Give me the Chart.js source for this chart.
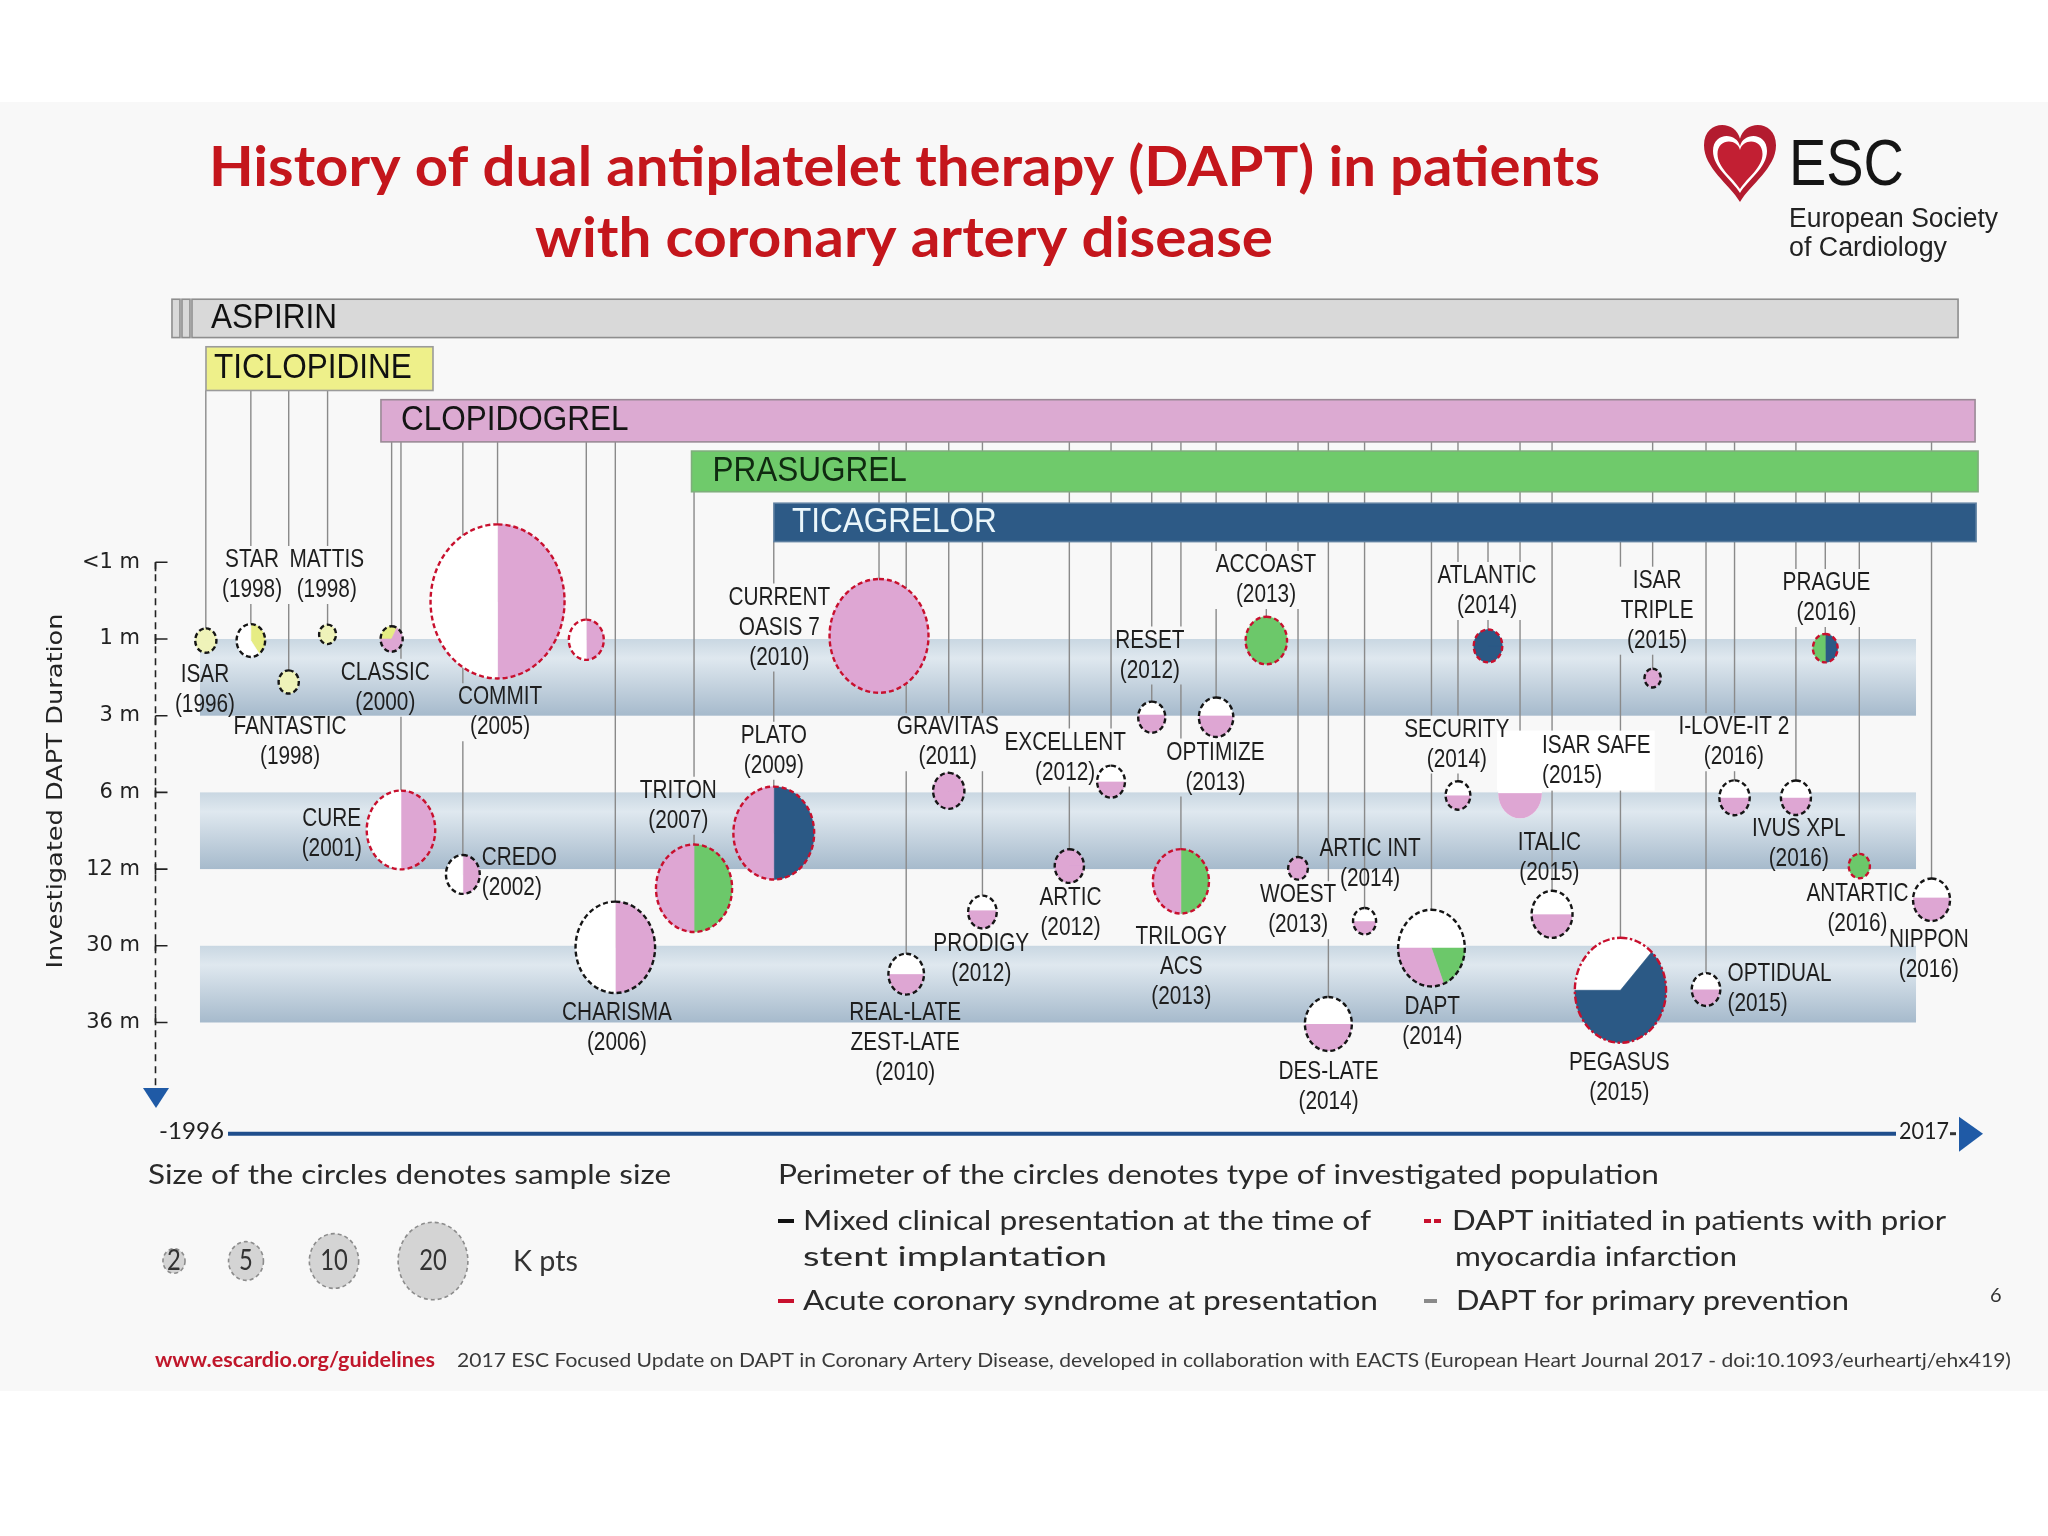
<!DOCTYPE html>
<html><head><meta charset="utf-8">
<script src="https://cdn.jsdelivr.net/npm/chart.js@4.4.1/dist/chart.umd.min.js"></script>
<style>html,body{margin:0;padding:0;background:#fff;}canvas{display:block;}</style>
</head><body>
<canvas id="c" width="2048" height="1536"></canvas>
<script>
// ---------------- DATA ----------------
const yTickLabels = ['<1 m','1 m','3 m','6 m','12 m','30 m','36 m'];

const drugNames  = ['ASPIRIN','TICLOPIDINE','CLOPIDOGREL','PRASUGREL','TICAGRELOR'];
const drugStart  = [-2.16, -1.32, 9.17, 27.79, 32.73];
const drugEnd    = [103.72, 12.29, 104.74, 104.92, 104.8];
const drugTop    = [-3.43, -2.81, -2.12, -1.45, -0.77];
const drugBottom = [-2.93, -2.24, -1.57, -0.92, -0.27];

const bandFrom = [1, 3, 5];
const bandTo   = [2, 4, 6];

const trialLabels = ['ISAR\n(1996)','STAR\n(1998)','FANTASTIC\n(1998)','MATTIS\n(1998)','CLASSIC\n(2000)','CURE\n(2001)','CREDO\n(2002)','COMMIT\n(2005)','','CHARISMA\n(2006)','TRITON\n(2007)','PLATO\n(2009)','CURRENT\nOASIS 7\n(2010)','REAL-LATE\nZEST-LATE\n(2010)','GRAVITAS\n(2011)','PRODIGY\n(2012)','ARTIC\n(2012)','EXCELLENT\n(2012)','RESET\n(2012)','TRILOGY\nACS\n(2013)','OPTIMIZE\n(2013)','ACCOAST\n(2013)','WOEST\n(2013)','DES-LATE\n(2014)','ARTIC INT\n(2014)','DAPT\n(2014)','SECURITY\n(2014)','ATLANTIC\n(2014)','ISAR SAFE\n(2015)','ITALIC\n(2015)','PEGASUS\n(2015)','ISAR\nTRIPLE\n(2015)','OPTIDUAL\n(2015)','I-LOVE-IT 2\n(2016)','IVUS XPL\n(2016)','PRAGUE\n(2016)','ANTARTIC\n(2016)','NIPPON\n(2016)'];
// timeline position (0 = 1996 start, 100 = 2017 end)
const trialX = [-1.33,1.37,3.64,5.97,9.81,10.37,14.08,16.16,21.48,23.22,27.94,32.72,39.03,40.66,43.21,45.23,50.44,52.94,55.38,57.13,59.24,62.25,64.15,65.97,68.14,72.15,73.74,75.54,77.46,79.38,83.48,85.41,88.61,90.32,94.00,95.76,97.80,102.13];
// investigated DAPT duration (position on the duration axis)
const trialY = [1.02,1.02,1.56,0.94,1.00,3.49,4.07,0.51,1.01,5.02,4.25,3.53,0.96,5.37,2.98,4.56,3.96,2.86,2.02,4.16,2.02,1.02,3.99,6.02,4.68,5.03,3.04,1.09,3.01,4.59,5.58,1.51,5.57,3.07,3.07,1.12,3.96,4.40];
// sample size, thousands of patients
const trialSizeK = [1.1,2.0,1.0,0.7,1.2,11.5,2.8,44,3.0,15.5,14.2,16,24,3.1,2.4,2.0,2.1,1.9,1.8,7.7,2.9,4.2,0.95,5.4,1.3,10.9,1.5,2.0,4.7,4.1,20.4,0.65,2.0,2.25,2.2,1.5,1.1,3.35];
// treatment arms: "startAngle:ColourPct,..." or "L<pct>" (lower part = longer DAPT)
const trialArms = ['0:y100','-90:Y40,W60','0:y100','0:y100','180:Y33,P67','-90:P50,W50','-90:P50,W50','-90:P50,W50','-90:P50,W50','-90:P50,W50','-90:G50,P50','-90:B50,P50','0:P100','L50','0:P100','L55','0:P100','L50','L58','-90:G50,P50','L54','0:G100','0:P100','L50','L50','180:W50,G19,P31','L50','0:B100','L50','L50','180:W37,B63','0:P100','L50','L50','L50','-90:B50,G50','0:G100','L55'];
// population type (perimeter)
const trialPopulation = ['M','M','M','M','M','A','M','A','A','M','A','A','A','M','M','M','M','M','M','A','M','A','M','M','M','M','M','A','N','M','MI','M','M','M','M','A','A','M'];
// drug bar the trial hangs from (index into drugNames)
const trialDrug = [1,1,1,1,2,2,2,2,2,2,3,4,2,2,2,2,2,2,2,2,2,3,2,2,2,2,2,4,2,2,4,2,2,2,2,3,3,2];
// label anchors (timeline position, duration position)
const labelX = [-1.38,1.44,3.72,5.92,9.43,6.22,15.21,16.31,null,23.32,27.0,32.72,33.05,40.6,43.15,45.16,50.51,50.19,55.27,57.15,59.2,62.23,64.16,65.98,68.47,72.2,73.67,75.48,78.78,79.22,83.41,85.68,89.9,90.28,94.17,95.83,97.69,101.97];
const labelY = [1.47,-0.03,2.15,-0.03,1.44,3.35,3.85,1.76,null,5.87,2.98,2.26,0.46,5.87,2.15,4.97,4.38,2.35,1.02,4.88,2.48,0.035,4.34,6.64,3.73,5.79,2.18,0.18,2.39,3.66,6.52,0.24,5.36,2.15,3.47,0.27,4.32,4.92];
const labelMode = ['c','c','c','c','c','c','l','c','','c','c','c','c','c','c','c','c','c','c','c','c','c','c','c','n','c','c','c','b','n','c','c','l','c','c','c','c','c'];

const legendSizesK = [2,5,10,20];

// ---------------- STYLE ----------------
const R_SCALE = 10.1, ELL = 1.15, LEG_SCALE = 7.8;
const LFONT = '26px "Liberation Sans", Arial, sans-serif', LSX = 0.8, LLH = 30;
const COL = {W:'#ffffff', P:'#dea6d3', G:'#6cc86a', B:'#2b5985', Y:'#e6ec84', y:'#eff3b9'};
const POP = {M:{c:'#151515',d:[5,3]}, A:{c:'#c8102e',d:[5,3]}, MI:{c:'#c8102e',d:[7,2.5,2.5,2.5]}, PP:{c:'#8a8a8a',d:[5,3]}};
const DRUG_STYLE = [
  {fill:'#d9d9d9', stroke:'#8e8e8e', text:'#111', off:19},
  {fill:'#eef08a', stroke:'#9b9b9b', text:'#111', off:8},
  {fill:'#dcaad2', stroke:'#9a8a96', text:'#151515', off:20},
  {fill:'#6fca6b', stroke:'#7fae7c', text:'#0f2a10', off:21},
  {fill:'#2d5a86', stroke:'#5d7fa0', text:'#eaf6fb', off:18}];

function T(c, s, x, y, font, color, align, w, sx, baseline){
  c.save(); c.font = font; const m = c.measureText(s).width; const k = w ? w/m : (sx || 1);
  c.translate(x, y); c.scale(k, 1); c.textAlign = align || 'left'; c.textBaseline = baseline || 'middle';
  c.fillStyle = color; c.fillText(s, 0, 0); c.restore(); return m*k;
}

function heart(c, cx, top, w, h){
  c.beginPath();
  c.moveTo(cx, top+0.22*h);
  c.bezierCurveTo(cx-0.06*w, top-0.02*h, cx-0.5*w, top-0.02*h, cx-0.5*w, top+0.3*h);
  c.bezierCurveTo(cx-0.5*w, top+0.58*h, cx-0.15*w, top+0.78*h, cx, top+h);
  c.bezierCurveTo(cx+0.15*w, top+0.78*h, cx+0.5*w, top+0.58*h, cx+0.5*w, top+0.3*h);
  c.bezierCurveTo(cx+0.5*w, top-0.02*h, cx+0.06*w, top-0.02*h, cx, top+0.22*h);
  c.closePath();
}

function labelBoxes(chart){
  const xs = chart.scales.x, ys = chart.scales.y, c = chart.ctx;
  c.save(); c.font = LFONT;
  const res = trialLabels.map((t,i) => {
    if (!t) return null;
    const lines = t.split('\n');
    const w = Math.max(...lines.map(l => c.measureText(l).width)) * LSX;
    const x = xs.getPixelForValue(labelX[i]), y = ys.getPixelForValue(labelY[i]);
    const left = (labelMode[i]==='l' || labelMode[i]==='b') ? x : x - w/2;
    return {lines, x, y, left, right:left+w, top:y-LLH/2+1, bottom:y+(lines.length-1)*LLH+LLH/2-1, mode:labelMode[i]};
  });
  c.restore();
  return res;
}

function drawCircle(c, i, px, py){
  const rx = R_SCALE*Math.sqrt(trialSizeK[i]), ry = rx*ELL, a = trialArms[i];
  c.save();
  if (a[0] === 'L'){
    const f = +a.slice(1)/100;
    c.beginPath(); c.ellipse(px, py, rx, ry, 0, 0, 2*Math.PI); c.fillStyle = COL.W; c.fill(); c.clip();
    c.fillStyle = COL.P; const yb = py+ry, yt = yb-2*ry*f; c.fillRect(px-rx-1, yt, 2*rx+2, yb-yt+1);
  } else {
    const parts = a.split(':'); let ang = +parts[0]*Math.PI/180;
    parts[1].split(',').forEach(sg => {
      const col = COL[sg[0]], fr = +sg.slice(1)/100, a1 = ang + fr*2*Math.PI;
      c.beginPath(); c.moveTo(px, py); c.ellipse(px, py, rx, ry, 0, ang, a1); c.closePath();
      c.fillStyle = col; c.fill(); c.strokeStyle = col; c.lineWidth = 0.6; c.stroke(); ang = a1;
    });
  }
  c.restore();
  const p = POP[trialPopulation[i]];
  if (p){
    c.save(); c.setLineDash(p.d); c.lineWidth = 2.4; c.strokeStyle = p.c;
    c.beginPath(); c.ellipse(px, py, rx, ry, 0, -Math.PI/2, 1.5*Math.PI); c.stroke(); c.restore();
  }
}

const daptPlugin = {
  id: 'dapt',
  beforeDraw(chart){
    const c = chart.ctx;
    c.save();
    c.fillStyle = '#ffffff'; c.fillRect(0, 0, 2048, 1536);
    c.fillStyle = '#f8f8f8'; c.fillRect(0, 102, 2048, 1289);
    // title
    T(c, 'History of dual antiplatelet therapy (DAPT) in patients', 904.5, 186, 'bold 56px Lato, sans-serif', '#c4161c', 'center', 1391, null, 'alphabetic');
    T(c, 'with coronary artery disease', 904, 257, 'bold 56px Lato, sans-serif', '#c4161c', 'center', 738, null, 'alphabetic');
    // logo
    heart(c, 1740, 121, 72, 81); c.fillStyle = '#b31b2f'; c.fill();
    heart(c, 1740, 133, 54, 60); c.fillStyle = '#ffffff'; c.fill();
    heart(c, 1740, 139, 45, 50); c.fillStyle = '#c21f33'; c.fill();
    T(c, 'ESC', 1789, 185, '64px "Liberation Sans", Arial, sans-serif', '#151515', 'left', 115, null, 'alphabetic');
    T(c, 'European Society', 1789, 227, '27px "Liberation Sans", Arial, sans-serif', '#222', 'left', 209, null, 'alphabetic');
    T(c, 'of Cardiology', 1789, 256, '27px "Liberation Sans", Arial, sans-serif', '#222', 'left', 158, null, 'alphabetic');
    c.restore();
  },
  beforeDatasetsDraw(chart){
    const c = chart.ctx, xs = chart.scales.x, ys = chart.scales.y, ca = chart.chartArea;
    c.save();
    // bands
    const bx0 = xs.getPixelForValue(-1.68), bx1 = xs.getPixelForValue(101.2);
    bandFrom.forEach((f, k) => {
      const y0 = ys.getPixelForValue(f), y1 = ys.getPixelForValue(bandTo[k]);
      const g = c.createLinearGradient(0, y0, 0, y1);
      g.addColorStop(0, '#c9d7e2'); g.addColorStop(0.25, '#dfe8ef'); g.addColorStop(1, '#a6bacc');
      c.fillStyle = g; c.fillRect(bx0, y0, bx1-bx0, y1-y0);
    });
    // connector lines, interrupted by labels
    const boxes = labelBoxes(chart);
    const meta = chart.getDatasetMeta(0);
    c.strokeStyle = '#8a8a8a'; c.lineWidth = 1.4;
    meta.data.forEach((el, i) => {
      const lx = el.x, y0 = ys.getPixelForValue(drugBottom[trialDrug[i]]), y1 = el.y;
      const cuts = boxes.filter(b => b && b.mode !== 'n' && lx >= b.left-3 && lx <= b.right+3 && b.bottom > y0 && b.top < y1)
                        .map(b => [b.top, b.bottom]).sort((a,b) => a[0]-b[0]);
      let cur = y0;
      const segs = [];
      cuts.forEach(ct => { if (ct[0] > cur) segs.push([cur, ct[0]]); cur = Math.max(cur, ct[1]); });
      if (cur < y1) segs.push([cur, y1]);
      segs.forEach(s => { c.beginPath(); c.moveTo(lx, s[0]); c.lineTo(lx, s[1]); c.stroke(); });
    });
    // drug bars
    drugNames.forEach((n, i) => {
      const x0 = xs.getPixelForValue(drugStart[i]), x1 = xs.getPixelForValue(drugEnd[i]);
      const y0 = ys.getPixelForValue(drugTop[i]), y1 = ys.getPixelForValue(drugBottom[i]);
      const st = DRUG_STYLE[i];
      c.fillStyle = st.fill; c.strokeStyle = st.stroke; c.lineWidth = 1.6;
      c.fillRect(x0, y0, x1-x0, y1-y0); c.strokeRect(x0, y0, x1-x0, y1-y0);
      if (i === 0){
        [[-20, 8], [-10, 8]].forEach(b => { c.fillRect(x0+b[0], y0, b[1], y1-y0); c.strokeRect(x0+b[0], y0, b[1], y1-y0); });
      }
      T(c, n, x0 + st.off, (y0+y1)/2, '35px "Liberation Sans", Arial, sans-serif', st.text, 'left', null, 0.9);
    });
    // duration axis
    const ax = 155.5, yTop = ys.getPixelForValue(0);
    c.strokeStyle = '#222'; c.lineWidth = 1.6; c.setLineDash([7,5]);
    c.beginPath(); c.moveTo(ax, yTop); c.lineTo(ax, 1088); c.stroke(); c.setLineDash([]);
    yTickLabels.forEach((l, i) => {
      const y = ys.getPixelForValue(i);
      c.beginPath(); c.moveTo(ax, y); c.lineTo(ax+12, y);
      if (i === 0 || i === 2){ c.moveTo(ax, y); c.lineTo(ax, y+9); }
      else if (i === 6){ c.moveTo(ax, y-9); c.lineTo(ax, y); }
      else { c.moveTo(ax, y-5); c.lineTo(ax, y+5); }
      c.stroke();
      T(c, l, 140, y, '21px "DejaVu Sans", sans-serif', '#222', 'right');
    });
    c.fillStyle = '#1f5aa6'; c.beginPath(); c.moveTo(143, 1088); c.lineTo(169, 1088); c.lineTo(156, 1108); c.closePath(); c.fill();
    c.save(); c.translate(56, 791); c.rotate(-Math.PI/2);
    T(c, 'Investigated DAPT Duration', 0, 0, '22px "DejaVu Sans", sans-serif', '#222', 'center', 355);
    c.restore();
    // timeline
    c.strokeStyle = '#1f4e8c'; c.lineWidth = 4;
    c.beginPath(); c.moveTo(ca.left, ca.bottom); c.lineTo(ca.right, ca.bottom); c.stroke();
    T(c, '-1996', ca.left-4, ca.bottom-2, '24px Lato, sans-serif', '#222', 'right', 65);
    T(c, '2017', ca.right+3, ca.bottom-2, '24px Lato, sans-serif', '#222', 'left', 50);
    c.fillStyle = '#333'; c.fillRect(ca.right+54, ca.bottom-1.5, 6, 3);
    c.fillStyle = '#1f5aa6'; c.beginPath(); c.moveTo(ca.right+63, ca.bottom-17); c.lineTo(ca.right+63, ca.bottom+18); c.lineTo(ca.right+87, ca.bottom); c.closePath(); c.fill();
    c.restore();
  },
  afterDatasetsDraw(chart){
    const c = chart.ctx;
    c.save();
    const meta = chart.getDatasetMeta(0);
    meta.data.forEach((el, i) => drawCircle(c, i, el.x, el.y));
    // labels: background boxes first, then all texts
    const boxes = labelBoxes(chart);
    boxes.forEach(b => {
      if (b && b.mode === 'b'){ c.fillStyle = '#ffffff'; c.fillRect(b.left-45, b.top-1, b.right-b.left+49, b.bottom-b.top+2); }
    });
    boxes.forEach(b => {
      if (!b) return;
      const al = (b.mode === 'l' || b.mode === 'b') ? 'left' : 'center';
      b.lines.forEach((l, j) => T(c, l, b.x, b.y + j*LLH, LFONT, '#1e1e1e', al, null, LSX));
    });
    // legend: sample size
    T(c, 'Size of the circles denotes sample size', 148, 1175, '27px Lato, sans-serif', '#2a2a2a', 'left', 523);
    const lcx = [174, 246, 334, 433];
    legendSizesK.forEach((n, k) => {
      const rx = LEG_SCALE*Math.sqrt(n), ry = rx*1.11, cx = lcx[k], cy = 1261;
      c.beginPath(); c.ellipse(cx, cy, rx, ry, 0, 0, 2*Math.PI); c.fillStyle = '#d4d4d4'; c.fill();
      c.setLineDash([4,3]); c.strokeStyle = '#8c8c8c'; c.lineWidth = 1.6; c.stroke(); c.setLineDash([]);
      T(c, String(n), cx, cy, '28px Lato, sans-serif', '#333', 'center', null, 0.85);
    });
    T(c, 'K pts', 513, 1262, '28px Lato, sans-serif', '#333', 'left', 65);
    // legend: perimeter
    T(c, 'Perimeter of the circles denotes type of investigated population', 778, 1175, '27px Lato, sans-serif', '#2a2a2a', 'left', 881);
    c.fillStyle = '#111'; c.fillRect(778, 1219, 16, 4);
    c.fillStyle = '#c8102e'; c.fillRect(778, 1299, 16, 4);
    c.fillRect(1424, 1219, 7, 4); c.fillRect(1434, 1219, 7, 4);
    c.fillStyle = '#8a8a8a'; c.fillRect(1424, 1299, 13, 4);
    const lf = '27px Lato, sans-serif';
    T(c, 'Mixed clinical presentation at the time of', 803, 1221, lf, '#2a2a2a', 'left', 568);
    T(c, 'stent implantation', 803, 1257, lf, '#2a2a2a', 'left', 304);
    T(c, 'Acute coronary syndrome at presentation', 803, 1301, lf, '#2a2a2a', 'left', 575);
    T(c, 'DAPT initiated in patients with prior', 1452, 1221, lf, '#2a2a2a', 'left', 494);
    T(c, 'myocardia infarction', 1455, 1257, lf, '#2a2a2a', 'left', 282);
    T(c, 'DAPT for primary prevention', 1456, 1301, lf, '#2a2a2a', 'left', 393);
    T(c, '6', 1990, 1296, '20px Lato, sans-serif', '#333', 'left');
    // footer
    T(c, 'www.escardio.org/guidelines', 155, 1361, 'bold 20px Lato, sans-serif', '#c0172b', 'left', 280);
    T(c, '2017 ESC Focused Update on DAPT in Coronary Artery Disease, developed in collaboration with EACTS (European Heart Journal 2017 - doi:10.1093/eurheartj/ehx419)', 457, 1361, '19px Lato, sans-serif', '#3a3a3a', 'left', 1554);
    c.restore();
  }
};

new Chart(document.getElementById('c').getContext('2d'), {
  type: 'scatter',
  data: { datasets: [{ data: trialX.map((x, i) => ({x, y: trialY[i]})), pointRadius: 0, pointHoverRadius: 0 }] },
  options: {
    responsive: false, animation: false, devicePixelRatio: 1,
    layout: { padding: { left: 228, right: 152, top: 255.5, bottom: 402.3 } },
    scales: {
      x: { type: 'linear', min: 0, max: 100, display: false },
      y: { type: 'linear', min: -4, max: 7.45, reverse: true, display: false }
    },
    plugins: { legend: { display: false }, tooltip: { enabled: false }, title: { display: false } },
    events: []
  },
  plugins: [daptPlugin]
});
</script>
</body></html>
